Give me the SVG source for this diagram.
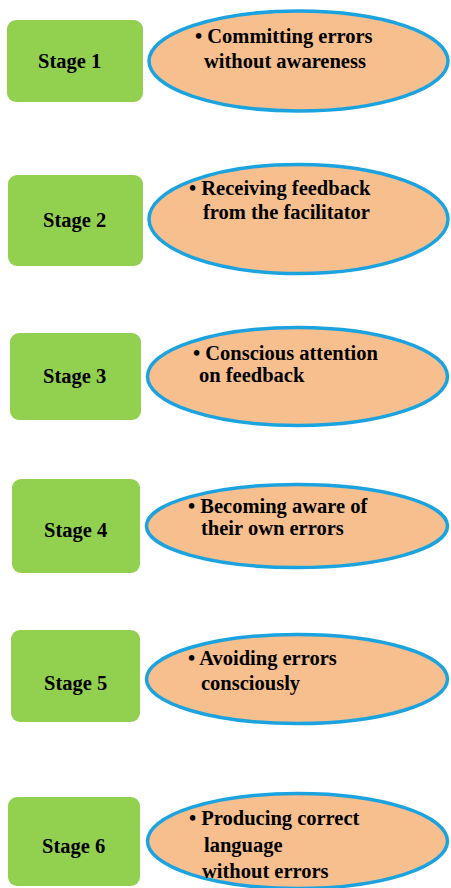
<svg xmlns="http://www.w3.org/2000/svg" width="451" height="888" viewBox="0 0 451 888">
<style>
.stage{fill:#92d050;}
.oval{fill:#f7be8e;stroke:#1ba3e0;stroke-width:3.5;}
text{font-family:"Liberation Serif","Times New Roman",serif;font-weight:bold;font-size:20.5px;fill:#000;}
</style>
<rect width="451" height="888" fill="#fff"/>
<g id="connectors"></g>
<g id="stage1"><rect class="stage" x="7" y="20" width="136" height="82" rx="9"/><text x="38" y="68">Stage 1</text></g>
<g id="desc1"><ellipse class="oval" cx="298.5" cy="61" rx="149.5" ry="50"/><text x="195" y="43">• Committing errors</text><text x="204" y="68">without awareness</text></g>
<g id="stage2"><rect class="stage" x="8" y="175" width="135" height="91" rx="9"/><text x="43" y="227">Stage 2</text></g>
<g id="desc2"><ellipse class="oval" cx="298.5" cy="219" rx="149.5" ry="54.5"/><text x="189" y="195">• Receiving feedback</text><text x="203" y="219">from the facilitator</text></g>
<g id="stage3"><rect class="stage" x="10" y="333" width="131" height="87" rx="9"/><text x="43" y="383">Stage 3</text></g>
<g id="desc3"><ellipse class="oval" cx="297.5" cy="376.5" rx="150" ry="49"/><text x="193" y="360">• Conscious attention</text><text x="199" y="382">on feedback</text></g>
<g id="stage4"><rect class="stage" x="12" y="479" width="128" height="94" rx="9"/><text x="44" y="537">Stage 4</text></g>
<g id="desc4"><ellipse class="oval" cx="297" cy="526" rx="150.5" ry="41.5"/><text x="188" y="513">• Becoming aware of</text><text x="201" y="535">their own errors</text></g>
<g id="stage5"><rect class="stage" x="11" y="630" width="129" height="92" rx="9"/><text x="44" y="690">Stage 5</text></g>
<g id="desc5"><ellipse class="oval" cx="297" cy="679" rx="150.5" ry="44.5"/><text x="188" y="665">• Avoiding errors</text><text x="201" y="690">consciously</text></g>
<g id="stage6"><rect class="stage" x="8" y="797" width="132" height="89" rx="9"/><text x="42" y="853">Stage 6</text></g>
<g id="desc6"><ellipse class="oval" cx="297.5" cy="841" rx="150" ry="47.5"/><text x="189" y="825">• Producing correct</text><text x="204" y="852">language</text><text x="202" y="878">without errors</text></g>
</svg>
